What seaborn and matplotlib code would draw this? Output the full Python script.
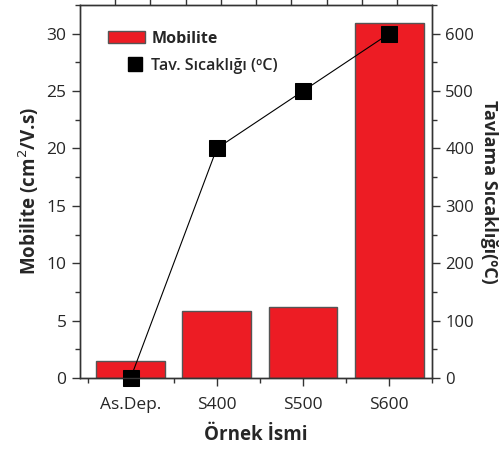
import matplotlib
matplotlib.use("Agg")
import matplotlib.pyplot as plt
import seaborn as sns
import numpy as np
import pandas as pd
from matplotlib.patches import Patch
from matplotlib.lines import Line2D
from matplotlib.legend_handler import HandlerLine2D
from matplotlib.ticker import MultipleLocator, FixedLocator

sns.set_style("ticks")
plt.rcParams['font.family'] = ['Open Sans', 'DejaVu Sans']

samples = ["As.Dep.", "S400", "S500", "S600"]
mobility = [1.5, 5.8, 6.2, 30.9]
temperature = [0, 400, 500, 600]

df = pd.DataFrame({"sample": samples, "mob": mobility, "temp": temperature})

fig = plt.figure(figsize=(5.02, 4.5), dpi=100)
ax = fig.add_axes([0.159, 0.16, 0.702, 0.829])

sns.barplot(data=df, x="sample", y="mob", color="#ED1C24", edgecolor="#555555",
            linewidth=1.0, width=0.8, saturation=1, ax=ax)
ax.set_xlim(-0.59, 3.5)
ax.set_ylim(0, 32.5)
ax.yaxis.set_major_locator(MultipleLocator(5))
ax.yaxis.set_minor_locator(MultipleLocator(2.5))
ax.xaxis.set_minor_locator(FixedLocator([-0.5, 0.5, 1.5, 2.5, 3.5]))

ax2 = ax.twinx()
sns.lineplot(data=df, x="sample", y="temp", marker="s", markersize=11, color="black",
             linewidth=0.8, markeredgecolor="black", sort=False, ax=ax2)
for l in ax2.lines:
    l.set_clip_on(False)
ax2.set_ylim(0, 650)
ax2.yaxis.set_major_locator(MultipleLocator(100))
ax2.yaxis.set_minor_locator(MultipleLocator(50))

for a in (ax, ax2):
    for s in a.spines.values():
        s.set_visible(True)
        s.set_linewidth(1.0)
        s.set_color("#333333")

ax.tick_params(axis="both", which="major", direction="out", length=6, width=1, labelsize=12.5, color="#333333")
ax.tick_params(axis="x", which="major", pad=8)
ax.tick_params(axis="both", which="minor", direction="out", length=3.5, width=1, color="#333333")
ax2.tick_params(axis="y", which="major", direction="out", length=6, width=1, labelsize=12, color="#333333")
ax2.tick_params(axis="y", which="minor", direction="out", length=3.5, width=1, color="#333333")

sec = ax.secondary_xaxis("top")
sec.set_xticks(np.linspace(-0.59, 3.5, 11)[1:-1])
sec.tick_params(direction="out", length=5, width=1, labeltop=False, color="#333333")
sec.spines["top"].set_visible(False)

ax.set_xlabel("Örnek İsmi", fontsize=13.5, fontweight="bold", labelpad=8)
ax.set_ylabel("Mobilite (cm$^2$/V.s)", fontsize=13.5, fontweight="bold")
ax2.set_ylabel("Tavlama Sıcaklığı(ºC)", fontsize=13, fontweight="bold", rotation=270, labelpad=17)


class RightMarkerHandler(HandlerLine2D):
    def create_artists(self, legend, orig_handle, xdescent, ydescent, width, height, fontsize, trans):
        artists = super().create_artists(legend, orig_handle, xdescent, ydescent, width, height, fontsize, trans)
        for a in artists:
            a.set_xdata([width - xdescent - 7])
        return artists


marker_handle = Line2D([], [], marker="s", color="black", linestyle="none", markersize=10,
                       label="Tav. Sıcaklığı (ºC)")
handles = [Patch(facecolor="#ED1C24", edgecolor="#555555", label="Mobilite"), marker_handle]
leg = ax.legend(handles=handles, loc="upper left", bbox_to_anchor=(0.04, 0.97), frameon=False,
                prop={"size": 11.5, "weight": "bold"}, handlelength=2.3, handletextpad=0.4,
                labelspacing=0.7, handler_map={marker_handle: RightMarkerHandler(numpoints=1)})
leg.get_texts()[1].set_fontweight("semibold")
if ax2.get_legend() is not None:
    ax2.get_legend().remove()

fig.savefig("out.png", dpi=100)
